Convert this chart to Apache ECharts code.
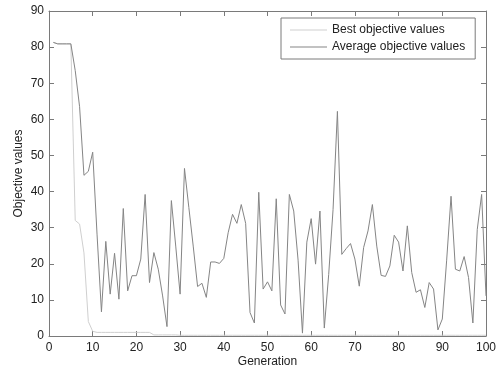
<!DOCTYPE html>
<html>
<head>
<meta charset="utf-8">
<script src="https://cdn.jsdelivr.net/npm/echarts@6/dist/echarts.min.js"></script>
<style>
  html, body { margin: 0; padding: 0; background: #fff; }
  #chart { width: 503px; height: 371px; }
</style>
</head>
<body>
<div id="chart"></div>
<script>
// values, generation 1..100
const bestValues = [
  81.3, 80.9, 80.9, 80.9, 80.9, 32, 31, 23, 4, 1.3,
  1.0, 1.0, 1.0, 1.0, 1.0, 1.0, 1.0, 1.0, 1.0, 1.0,
  1.0, 1.0, 1.0, 0.3, 0.3, 0.3, 0.3, 0.3, 0.3, 0.2,
  0.2, 0.2, 0.2, 0.2, 0.2, 0.2, 0.2, 0.2, 0.2, 0.2,
  0.2, 0.2, 0.2, 0.2, 0.2, 0.2, 0.2, 0.2, 0.2, 0.2,
  0.2, 0.2, 0.2, 0.2, 0.2, 0.2, 0.2, 0.2, 0.2, 0.2,
  0.2, 0.2, 0.2, 0.2, 0.2, 0.2, 0.2, 0.2, 0.2, 0.2,
  0.2, 0.2, 0.2, 0.2, 0.2, 0.2, 0.2, 0.2, 0.2, 0.2,
  0.2, 0.2, 0.2, 0.2, 0.2, 0.2, 0.2, 0.2, 0.2, 0.2,
  0.2, 0.2, 0.2, 0.2, 0.2, 0.2, 0.2, 0.2, 0.2, 0.2
];

const averageValues = [
  81.3, 80.9, 80.9, 80.9, 80.9, 73.5, 63.5, 44.5, 45.6, 50.9,
  28.0, 6.7, 26.2, 11.6, 22.9, 10.2, 35.3, 12.5, 16.7, 16.7,
  21.3, 39.2, 14.8, 23.1, 18.5, 11.1, 2.6, 37.5, 24.9, 11.6,
  46.4, 35.6, 24.9, 13.7, 14.6, 10.7, 20.5, 20.5, 20.1, 21.5,
  28.6, 33.7, 31.2, 36.4, 31.2, 6.5, 3.6, 39.8, 13.0, 15.0,
  12.5, 38.0, 8.6, 6.1, 39.2, 34.6, 21.0, 0.8, 26.0, 32.5,
  19.9, 34.6, 2.2, 17.0, 35.0, 62.2, 22.6, 24.2, 25.6, 21.3,
  13.8, 24.5, 29.1, 36.4, 24.9, 16.8, 16.5, 19.4, 27.9, 26.0,
  18.0, 30.5, 17.6, 12.1, 12.8, 7.9, 14.8, 13.0, 1.7, 4.7,
  21.0, 38.7, 18.5, 18.0, 22.0, 16.2, 3.6, 29.5, 39.2, 11.1
];

const seriesNames = ['Best objective values', 'Average objective values'];
const xTicks = [0, 10, 20, 30, 40, 50, 60, 70, 80, 90, 100];
const yTicks = [0, 10, 20, 30, 40, 50, 60, 70, 80, 90];

const toPoints = (values) => values.map((v, i) => [i + 1, v]);

const font = 'Liberation Sans';
const axisColor = '#7a7a7a';
// thin horizontal bar as legend sample; corner specks keep the 37x10 box
const lineIcon = 'path://M0,0L0.01,0L0,0.01Z M0,4.5L37,4.5L37,5.5L0,5.5Z M37,10L36.99,10L37,9.99Z';

const baseAxis = {
  axisLine: { show: true, onZero: false, lineStyle: { color: axisColor, width: 1 } },
  axisTick: { show: true, inside: true, length: 5, lineStyle: { color: axisColor } },
  splitLine: { show: false },
  axisLabel: { color: '#222', fontFamily: font, fontSize: 12 }
};

const chart = echarts.init(document.getElementById('chart'), null, { renderer: 'canvas' });

chart.setOption({
  animation: false,
  backgroundColor: '#fff',
  grid: { left: 49, right: 17, top: 11, bottom: 35, outerBoundsMode: 'none', containLabel: false },
  legend: {
    orient: 'vertical',
    left: 281,
    top: 18,
    data: seriesNames,
    icon: lineIcon,
    itemWidth: 37,
    itemHeight: 10,
    itemGap: 5,
    padding: [6, 10, 6, 9],
    borderColor: '#7a7a7a',
    borderWidth: 1,
    backgroundColor: '#fff',
    textStyle: { color: '#222', fontFamily: font, fontSize: 12 }
  },
  xAxis: [
    Object.assign({}, baseAxis, {
      type: 'value', min: xTicks[0], max: xTicks[xTicks.length - 1], interval: 10,
      name: 'Generation', nameLocation: 'middle', nameGap: 20, nameMoveOverlap: false,
      nameTextStyle: { color: '#222', fontFamily: font, fontSize: 12 },
      axisLabel: Object.assign({}, baseAxis.axisLabel, { margin: 6 })
    }),
    Object.assign({}, baseAxis, {
      type: 'value', position: 'top', min: 0, max: 100, interval: 10,
      axisLabel: { show: false }
    })
  ],
  yAxis: [
    Object.assign({}, baseAxis, {
      type: 'value', min: yTicks[0], max: yTicks[yTicks.length - 1], interval: 10,
      name: 'Objective values', nameLocation: 'middle', nameGap: 24, nameMoveOverlap: false,
      nameTextStyle: { color: '#222', fontFamily: font, fontSize: 12 },
      axisLabel: Object.assign({}, baseAxis.axisLabel, { margin: 5 })
    }),
    Object.assign({}, baseAxis, {
      type: 'value', position: 'right', min: 0, max: 90, interval: 10,
      axisLabel: { show: false }
    })
  ],
  series: [
    {
      name: seriesNames[0],
      type: 'line',
      data: toPoints(bestValues),
      symbol: 'none',
      color: '#cfcfcf',
      lineStyle: { width: 1, color: '#cfcfcf' },
      z: 2
    },
    {
      name: seriesNames[1],
      type: 'line',
      data: toPoints(averageValues),
      symbol: 'none',
      color: '#858585',
      lineStyle: { width: 1, color: '#858585' },
      z: 3
    }
  ]
});
</script>
</body>
</html>
